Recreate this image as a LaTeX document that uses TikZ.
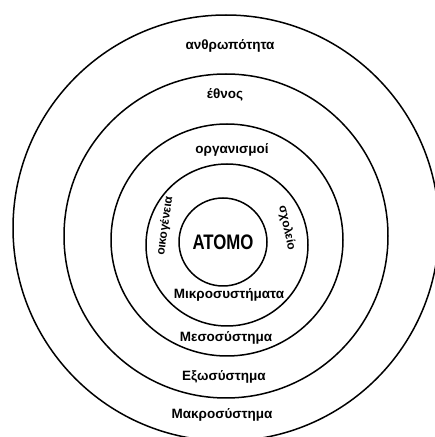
\documentclass[tikz,border=0pt]{standalone}
\usepackage{fontspec}
\setmainfont{Liberation Sans}
\usepackage{tikz}

\tikzset{
  ring/.style={draw=black,circle,line width=1.5pt,inner sep=0pt},
  lbl/.style={font=\bfseries\fontsize{13.5}{15}\selectfont,inner sep=1pt},
  sidelbl/.style={font=\bfseries\fontsize{12}{14}\selectfont,inner sep=1pt}
}

\begin{document}
\begin{tikzpicture}[x=1pt,y=1pt]
  \useasboundingbox (0,0) rectangle (435,437);
  \clip (0,0) rectangle (435,437);
  % rings, from the outside in
  \node[ring,minimum size=426pt] (makro) at (226,209) {};
  \node[ring,minimum size=324pt] (exo) at (226,201) {};
  \node[ring,minimum size=232pt] (meso) at (227,197) {};
  \node[ring,minimum size=162pt] (mikro) at (227,192) {};
  \node[ring,minimum size=88pt,font=\bfseries\fontsize{21}{24}\selectfont] (atomo) at (223,195) {\scalebox{0.8}[1]{ATOMO}};
  % labels
  \node[lbl] (anthr) at (230,391) {ανθρωπότητα};
  \node[lbl] (ethnos) at (225,342) {έθνος};
  \node[lbl] (organ) at (232,287) {οργανισμοί};
  \node[sidelbl,rotate=82] (oikog) at (165,211) {οικογένεια};
  \node[sidelbl,rotate=-78] (sxol) at (287,209) {σχολείο};
  \node[lbl] (mikrolbl) at (229,142) {Μικροσυστήματα};
  \node[lbl] (mesolbl) at (226,99) {Μεσοσύστημα};
  \node[lbl] (exolbl) at (224,60) {Εξωσύστημα};
  \node[lbl] (makrolbl) at (222,22) {Μακροσύστημα};
\end{tikzpicture}
\end{document}
